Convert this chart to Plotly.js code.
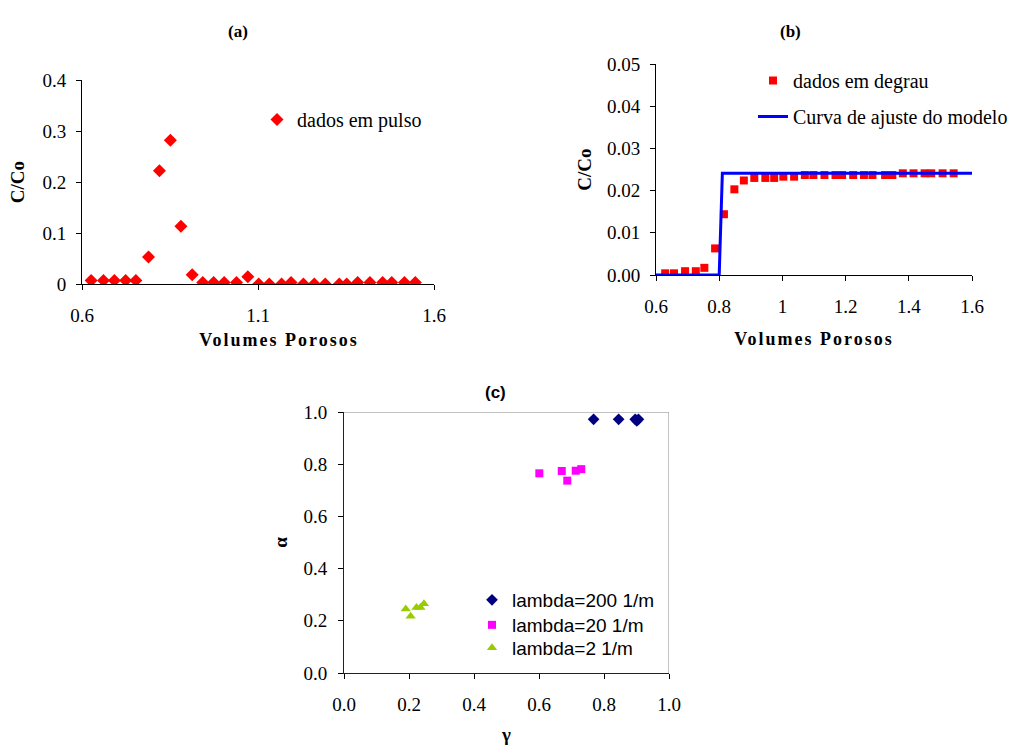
<!DOCTYPE html>
<html>
<head>
<meta charset="utf-8">
<script src="https://cdn.plot.ly/plotly-3.0.1.min.js"></script>
<style>
html,body{margin:0;padding:0;background:#fff;}
#chart{width:1017px;height:745px;}
.g-xtitle text,.g-x2title text{letter-spacing:2px;}
.g-xtitle{transform:translate(21px,0);}
</style>
</head>
<body>
<div id="chart"></div>
<script>
// Panel (a): pulse data
const pulsoX = [0.626,0.661,0.692,0.724,0.753,0.789,0.820,0.851,0.881,0.913,0.943,0.974,1.004,1.039,1.071,1.102,1.132,1.167,1.194,1.229,1.260,1.291,1.331,1.352,1.383,1.418,1.454,1.480,1.516,1.547];
const pulsoY = [0.007,0.007,0.007,0.007,0.007,0.053,0.222,0.282,0.113,0.018,0.003,0.003,0.003,0.003,0.014,0.000,0.000,0.000,0.003,0.000,0.000,0.000,0.000,0.000,0.003,0.003,0.003,0.003,0.003,0.003];

// Panel (b): step data and model fit
const degrauX = [0.629,0.657,0.692,0.726,0.753,0.787,0.815,0.848,0.878,0.911,0.946,0.974,1.003,1.037,1.071,1.098,1.133,1.168,1.189,1.224,1.258,1.285,1.325,1.348,1.381,1.415,1.450,1.471,1.507,1.542];
const degrauY = [0.0004,0.0004,0.0009,0.0009,0.0017,0.0063,0.0144,0.0203,0.0224,0.0230,0.0230,0.0230,0.0233,0.0233,0.0237,0.0237,0.0237,0.0237,0.0237,0.0237,0.0237,0.0237,0.0237,0.0237,0.0241,0.0241,0.0241,0.0241,0.0241,0.0241];
const modeloX = [0.6,0.8,0.81,1.6];
const modeloY = [0,0,0.0241,0.0241];

// Panel (c): alpha vs gamma
const l200G = [0.768,0.845,0.896,0.906,0.901];
const l200A = [0.972,0.972,0.972,0.972,0.966];
const l20G = [0.601,0.670,0.687,0.713,0.730];
const l20A = [0.765,0.774,0.737,0.775,0.781];
const l2G = [0.190,0.205,0.223,0.235,0.246];
const l2A = [0.245,0.217,0.251,0.251,0.265];

const serif = '"Times New Roman", "Liberation Serif", serif';
const sans = '"Liberation Sans", Arial, sans-serif';

const traces = [
  {x: pulsoX, y: pulsoY, type:'scatter', mode:'markers', name:'dados em pulso',
   marker:{symbol:'diamond', size:10, color:'#ff0000'}, xaxis:'x', yaxis:'y', legend:'legend'},
  {x: degrauX, y: degrauY, type:'scatter', mode:'markers', name:'dados em degrau',
   marker:{symbol:'square', size:8, color:'#ff0000'}, xaxis:'x2', yaxis:'y2', legend:'legend2', legendgroup:'g1'},
  {x: modeloX, y: modeloY, type:'scatter', mode:'lines', name:'Curva de ajuste do modelo',
   line:{color:'#0000ff', width:3}, xaxis:'x2', yaxis:'y2', legend:'legend2', legendgroup:'g2'},
  {x: l200G, y: l200A, type:'scatter', mode:'markers', name:'lambda=200 1/m',
   marker:{symbol:'diamond', size:9, color:'#000080'}, xaxis:'x3', yaxis:'y3', legend:'legend3'},
  {x: l20G, y: l20A, type:'scatter', mode:'markers', name:'lambda=20 1/m',
   marker:{symbol:'square', size:8, color:'#ff00ff'}, xaxis:'x3', yaxis:'y3', legend:'legend4'},
  {x: l2G, y: l2A, type:'scatter', mode:'markers', name:'lambda=2 1/m',
   marker:{symbol:'triangle-up', size:9, color:'#99cc00'}, xaxis:'x3', yaxis:'y3', legend:'legend5'}
];

const tickFont = {family: serif, size: 19, color:'#000'};
const titleFont = {family: serif, size: 18, color:'#000', weight:'bold'};
function ax(extra){
  return Object.assign({showgrid:false, zeroline:false, showline:true, linecolor:'#000', linewidth:1,
    ticks:'outside', ticklen:5, tickcolor:'#000', tickfont:tickFont, fixedrange:true}, extra);
}

const W = 1017, H = 745;
function cLegend(top){
  return {x:472/W, y:1-top/H, xanchor:'left', yanchor:'top', bgcolor:'rgba(0,0,0,0)',
    font:{family: sans, size:19, color:'#000'}};
}
const layout = {
  width: W, height: H,
  margin:{l:0, r:0, t:0, b:0},
  paper_bgcolor:'#fff', plot_bgcolor:'#fff',
  font:{family: serif},
  showlegend:true,
  xaxis: ax({domain:[82/W, 434/W], range:[0.6,1.6], tick0:0.6, dtick:0.5, anchor:'y', ticklabelstandoff:9,
    title:{text:'Volumes Porosos', font:titleFont, standoff:8}}),
  yaxis: ax({domain:[1-284/H, 1-80/H], range:[0,0.4], dtick:0.1, anchor:'x', ticklabelstandoff:6,
    title:{text:'C/Co', font:{family: serif, size:19, color:'#000', weight:'bold'}, standoff:12}}),
  xaxis2: ax({domain:[656/W, 972/W], range:[0.6,1.6], tick0:0.6, dtick:0.2, anchor:'y2', ticklabelstandoff:9,
    title:{text:'Volumes Porosos', font:titleFont, standoff:16}}),
  yaxis2: ax({domain:[1-275/H, 1-64/H], range:[0,0.05], dtick:0.01, tickformat:'.2f', anchor:'x2', ticklabelstandoff:6,
    title:{text:'C/Co', font:{family: serif, size:19, color:'#000', weight:'bold'}, standoff:10}}),
  xaxis3: ax({domain:[344/W, 669/W], range:[0,1], dtick:0.2, tickformat:'.1f', anchor:'y3', ticklabelstandoff:9, linecolor:'#222',
    title:{text:'γ', font:{family: serif, size:19, color:'#000', weight:'bold'}, standoff:13}}),
  yaxis3: ax({domain:[1-673/H, 1-412/H], range:[0,1], dtick:0.2, tickformat:'.1f', anchor:'x3', ticklabelstandoff:7, linecolor:'#222',
    title:{text:'α', font:{family: serif, size:19, color:'#000', weight:'bold'}, standoff:10}}),
  legend:{x:257/W, y:1-100/H, xanchor:'left', yanchor:'top', bgcolor:'rgba(0,0,0,0)',
    font:{family: serif, size:20, color:'#000'}},
  legend2:{x:753/W, y:1-61/H, xanchor:'left', yanchor:'top', bgcolor:'rgba(0,0,0,0)',
    traceorder:'grouped', tracegroupgap:7,
    font:{family: serif, size:20, color:'#000'}},
  legend3: cLegend(581),
  legend4: cLegend(606),
  legend5: cLegend(629),
  shapes:[
    {type:'line', xref:'x3', yref:'y3', x0:0, x1:1, y0:1, y1:1, line:{color:'#888', width:1}},
    {type:'line', xref:'x3', yref:'y3', x0:1, x1:1, y0:0, y1:1, line:{color:'#888', width:1}}
  ],
  annotations:[
    {text:'(a)', xref:'paper', yref:'paper', x:226/W, y:1-20/H, showarrow:false, font:{family:serif, size:17, color:'#000', weight:'bold'}},
    {text:'(b)', xref:'paper', yref:'paper', x:803/W, y:1-20/H, showarrow:false, font:{family:serif, size:17, color:'#000', weight:'bold'}},
    {text:'(c)', xref:'paper', yref:'paper', x:495/W, y:1-393/H, showarrow:false, font:{family:sans, size:17, color:'#000', weight:'bold'}}
  ]
};

Plotly.newPlot('chart', traces, layout, {displayModeBar:false, responsive:false});
</script>
</body>
</html>
